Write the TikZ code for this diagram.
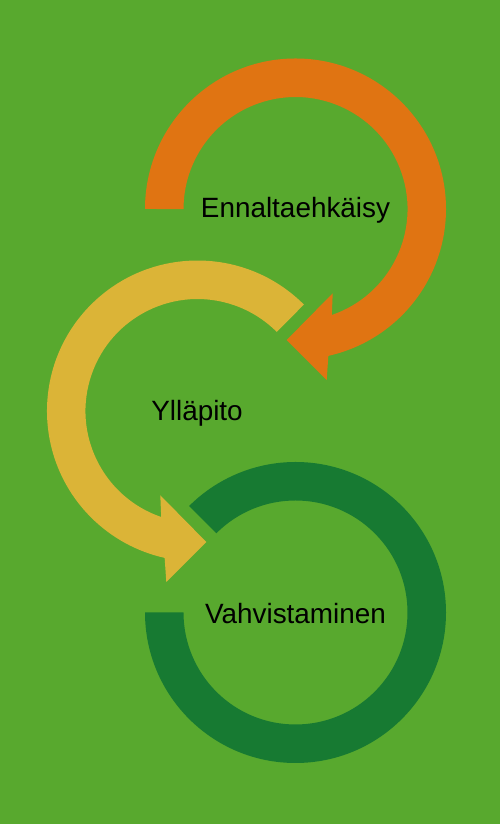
\documentclass[tikz,border=0pt]{standalone}
\usepackage{fontspec}
\setmainfont{Liberation Sans}
\usepackage{xcolor}
\usepackage{tikz}
\definecolor{bggreen}{RGB}{88,169,46}
\definecolor{arcorange}{RGB}{224,116,18}
\definecolor{arcyellow}{RGB}{219,180,55}
\definecolor{arcgreen}{RGB}{23,122,50}

\begin{document}
\begin{tikzpicture}[x=0.03cm,y=0.03cm,
		steptext/.style={anchor=base,inner sep=0pt,text=black,font=\fontsize{23.8}{28}\selectfont}]
		\useasboundingbox (0,0) rectangle (500,824);
		\fill[bggreen] (0,0) rectangle (500,824);
		\fill[arcorange] (145,615) arc[start angle=180,end angle=-77.4,radius=150.5] -- (326.7,444) -- (286.7,484) -- (332.7,530.7) -- (331.8,509) arc[start angle=-71.1,end angle=180,radius=112] -- cycle;
		\fill[arcyellow] (303.9,519.4) arc[start angle=45,end angle=257.4,radius=150.5] -- (166.3,242) -- (206.3,282) -- (160.3,328.7) -- (161.2,307) arc[start angle=251.1,end angle=45,radius=112] -- cycle;
		\fill[arcgreen] (145,211.5) arc[start angle=180,end angle=495,radius=150.5] -- (216.3,290.7) arc[start angle=495,end angle=180,radius=112] -- cycle;
		\node[steptext] (ennalta) at (295.5,606.5) {Ennaltaehkäisy};
		\node[steptext] (yllapito) at (197,403.5) {Ylläpito};
		\node[steptext] (vahvistus) at (295.5,200.7) {Vahvistaminen};
\end{tikzpicture}
\end{document}
